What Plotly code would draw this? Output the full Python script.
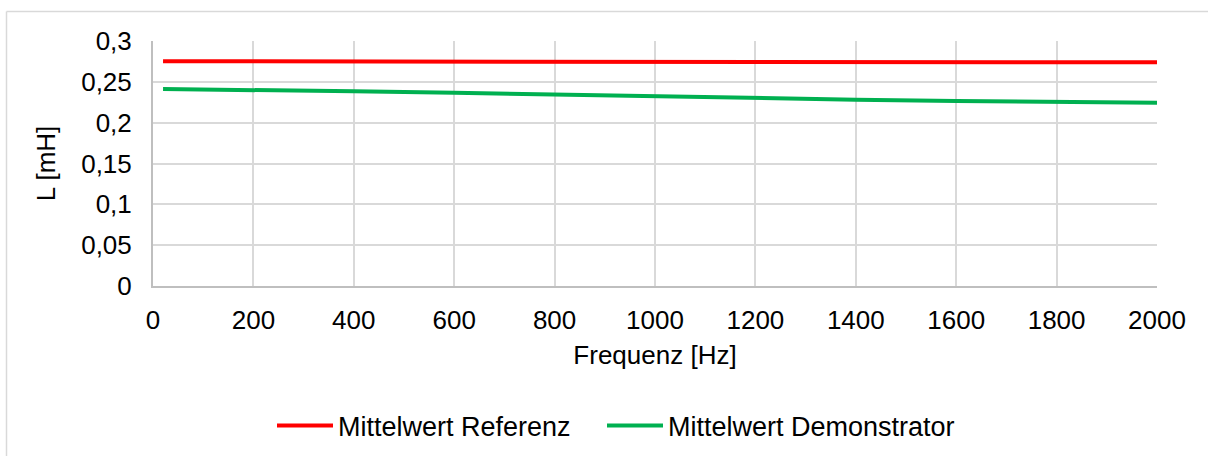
import plotly.graph_objects as go

# Frequency points (Hz)
freq_hz = [20, 200, 400, 600, 800, 1000, 1200, 1400, 1600, 1800, 2000]

# Mean inductance (mH)
l_referenz = [0.2752, 0.2752, 0.2751, 0.2749, 0.2748, 0.2747, 0.2746, 0.2744, 0.2742, 0.2740, 0.2739]
l_demonstrator = [0.2412, 0.2404, 0.2384, 0.2367, 0.2343, 0.2327, 0.2306, 0.2281, 0.2265, 0.2257, 0.2245]

x_ticks = [0, 200, 400, 600, 800, 1000, 1200, 1400, 1600, 1800, 2000]
x_tick_labels = ["0", "200", "400", "600", "800", "1000", "1200", "1400", "1600", "1800", "2000"]
y_ticks = [0, 0.05, 0.1, 0.15, 0.2, 0.25, 0.3]
y_tick_labels = ["0", "0,05", "0,1", "0,15", "0,2", "0,25", "0,3"]

FONT = "Liberation Sans, Arial, sans-serif"
GRID = "#D9D9D9"
AXIS = "#BFBFBF"

fig = go.Figure()
fig.add_trace(go.Scatter(
    x=freq_hz, y=l_referenz, mode="lines", name="Mittelwert Referenz",
    line=dict(color="#FF0000", width=4), legend="legend",
))
fig.add_trace(go.Scatter(
    x=freq_hz, y=l_demonstrator, mode="lines", name="Mittelwert Demonstrator",
    line=dict(color="#00B050", width=4), legend="legend2",
))

W, H = 1208, 456
ml, mr, mt, mb = 153, 51, 41, 170
pw, ph = W - ml - mr, H - mt - mb

def px_x(p):
    return (p - ml) / pw

def px_y(p):
    return 1 - (p - mt) / ph

def legend_box(left_px):
    return dict(
        orientation="h", x=px_x(left_px), y=px_y(426),
        xanchor="left", yanchor="middle",
        font=dict(family=FONT, size=27, color="#000000"),
        itemwidth=56, bgcolor="rgba(0,0,0,0)",
    )

fig.update_layout(
    width=W, height=H,
    margin=dict(l=ml, r=mr, t=mt, b=mb, pad=0, autoexpand=False),
    paper_bgcolor="white", plot_bgcolor="white",
    font=dict(family=FONT, size=26, color="#000000"),
    showlegend=True,
    legend=legend_box(272),
    legend2=legend_box(602),
    xaxis=dict(
        range=[0, 2000], tickvals=x_ticks, ticktext=x_tick_labels,
        showgrid=True, gridcolor=GRID, gridwidth=1.5,
        showline=True, linecolor=AXIS, linewidth=2,
        zeroline=False, ticks="", ticklabelstandoff=10,
        title=dict(text="Frequenz [Hz]", standoff=12,
                   font=dict(family=FONT, size=26)),
        tickfont=dict(family=FONT, size=26),
    ),
    yaxis=dict(
        range=[0, 0.3], tickvals=y_ticks, ticktext=y_tick_labels,
        showgrid=True, gridcolor=GRID, gridwidth=1.5,
        showline=True, linecolor=AXIS, linewidth=2,
        zeroline=False, ticks="", ticklabelstandoff=14,
        title=dict(text="L [mH]", standoff=18,
                   font=dict(family=FONT, size=26)),
        tickfont=dict(family=FONT, size=26),
    ),
)

# Outer chart frame (left and top edges)
fig.add_shape(type="line", xref="paper", yref="paper",
              x0=px_x(6.5), x1=px_x(6.5), y0=px_y(470), y1=px_y(11.5),
              line=dict(color="#D9D9D9", width=1.5), layer="below")
fig.add_shape(type="line", xref="paper", yref="paper",
              x0=px_x(6.5), x1=px_x(1220), y0=px_y(11.5), y1=px_y(11.5),
              line=dict(color="#D9D9D9", width=1.5), layer="below")

fig.write_html("out.html")
